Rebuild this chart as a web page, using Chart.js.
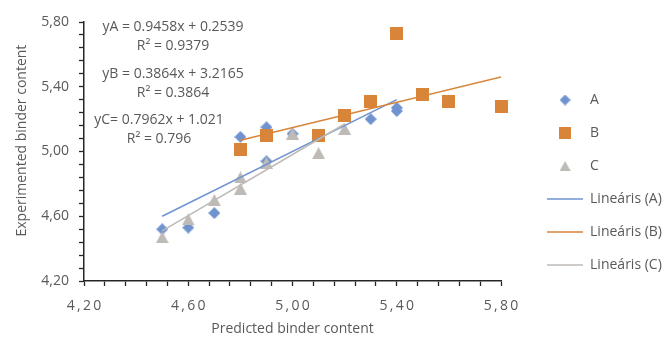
<!DOCTYPE html>
<html><head><meta charset="utf-8">
<script src="https://cdn.jsdelivr.net/npm/chart.js@4/dist/chart.umd.min.js"></script>
<style>html,body{margin:0;padding:0;background:#fff}#wrap{width:669px;height:337px}</style>
</head><body><div id="wrap"><canvas id="c" width="669" height="337"></canvas></div>
<script>
// ---- data ----
const seriesNames = ['A', 'B', 'C'];
const trendNames = ['Lineáris (A)', 'Lineáris (B)', 'Lineáris (C)'];

const xA = [4.50, 4.60, 4.70, 4.80, 4.90, 4.90, 5.00, 5.30, 5.40, 5.40];
const yA = [4.52, 4.53, 4.62, 5.09, 5.15, 4.94, 5.11, 5.20, 5.27, 5.25];

const xB = [4.80, 4.90, 5.10, 5.20, 5.30, 5.40, 5.50, 5.60, 5.80];
const yB = [5.01, 5.10, 5.10, 5.22, 5.31, 5.73, 5.35, 5.31, 5.28];

const xC = [4.50, 4.60, 4.70, 4.80, 4.80, 4.90, 5.00, 5.10, 5.20];
const yC = [4.47, 4.58, 4.70, 4.84, 4.77, 4.93, 5.11, 4.99, 5.14];

// trendline end points as drawn in the picture
const trendAx = [4.50, 5.40], trendAy = [4.60, 5.32];
const trendBx = [4.80, 5.80], trendBy = [5.07, 5.46];
const trendCx = [4.50, 5.20], trendCy = [4.51, 5.17];

const equationLabels = ['yA = 0.9458x + 0.2539', 'R\u00B2 = 0.9379',
                        'yB = 0.3864x + 3.2165', 'R\u00B2 = 0.3864',
                        'yC= 0.7962x + 1.021', 'R\u00B2 = 0.796'];

const axisMin = 4.20, axisMax = 5.80, minorStep = 0.08;
const xTitle = 'Predicted binder content';
const yTitle = 'Experimented binder content';

// ---- styling ----
const FONT = '"Open Sans", "Liberation Sans", sans-serif';
const TXT = '#595959';
const BLUE = '#7093CF', ORANGE = '#D8853A', GRAY = '#BEBAB6';

function icon(kind, color, w, h) {
  const c = document.createElement('canvas');
  c.width = w; c.height = h;
  const g = c.getContext('2d');
  g.fillStyle = color; g.strokeStyle = color;
  g.beginPath();
  if (kind === 'triangle') { g.moveTo(w / 2, 0); g.lineTo(w, h); g.lineTo(0, h); g.closePath(); g.fill(); }
  else if (kind === 'diamond') { g.moveTo(w / 2, 0); g.lineTo(w, h / 2); g.lineTo(w / 2, h); g.lineTo(0, h / 2); g.closePath(); g.fill(); }
  else if (kind === 'square') { g.fillRect(0, 0, w, h); }
  else { g.lineWidth = 1.5; g.moveTo(0, h / 2); g.lineTo(w, h / 2); g.stroke(); }
  return c;
}
const ptA = icon('diamond', BLUE, 12, 12);
const ptB = icon('square', ORANGE, 13, 13);
const ptC = icon('triangle', GRAY, 13, 12);
const legendIcons = [icon('diamond', BLUE, 11, 11), icon('square', ORANGE, 12, 12), icon('triangle', GRAY, 11, 10),
                     icon('line', BLUE, 36, 4), icon('line', ORANGE, 36, 4), icon('line', GRAY, 36, 4)];

const pts = (xs, ys) => xs.map((x, i) => ({ x: x, y: ys[i] }));

const isMajor = v => Math.round(v * 100) % 40 === 20;
const fmt = v => v.toFixed(2).replace('.', ',');

const equationPlugin = {
  id: 'equations',
  afterDatasetsDraw(chart) {
    const ctx = chart.ctx;
    ctx.save();
    ctx.font = '14px ' + FONT;
    ctx.fillStyle = TXT;
    ctx.textAlign = 'center';
    ctx.textBaseline = 'alphabetic';
    const pos = [[173, 31], [173, 50], [173, 78], [173, 97], [159, 124], [159, 143]];
    equationLabels.forEach((t, i) => ctx.fillText(t, pos[i][0], pos[i][1]));
    ctx.restore();
  }
};

const axisCommon = {
  type: 'linear', min: axisMin, max: axisMax,
  grid: { drawOnChartArea: false, drawTicks: true, tickLength: 5, tickColor: '#262626', tickWidth: 1.3 },
  border: { display: true, color: '#262626', width: 1.5 }
};

new Chart(document.getElementById('c'), {
  type: 'scatter',
  data: {
    datasets: [
      { label: seriesNames[0], data: pts(xA, yA), pointStyle: ptA, pointRadius: 6, backgroundColor: BLUE, borderColor: BLUE, order: 6, clip: false },
      { label: seriesNames[1], data: pts(xB, yB), pointStyle: ptB, pointRadius: 6, backgroundColor: ORANGE, borderColor: ORANGE, order: 5, clip: false },
      { label: seriesNames[2], data: pts(xC, yC), pointStyle: ptC, pointRadius: 6, backgroundColor: GRAY, borderColor: GRAY, order: 4, clip: false },
      { label: trendNames[0], data: pts(trendAx, trendAy), showLine: true, pointRadius: 0, borderColor: BLUE, borderWidth: 1.5, order: 3 },
      { label: trendNames[1], data: pts(trendBx, trendBy), showLine: true, pointRadius: 0, borderColor: ORANGE, borderWidth: 1.5, order: 2 },
      { label: trendNames[2], data: pts(trendCx, trendCy), showLine: true, pointRadius: 0, borderColor: GRAY, borderWidth: 1.5, order: 1 }
    ]
  },
  options: {
    responsive: false,
    animation: false,
    devicePixelRatio: 1,
    layout: { padding: { top: 22, right: -3, bottom: 0, left: 0 } },
    plugins: {
      tooltip: { enabled: false },
      legend: {
        position: 'right',
        align: 'start',
        maxWidth: 160,
        title: { display: true, text: ' ', font: { size: 10 }, padding: { top: 40, bottom: 0 } },
        labels: {
          usePointStyle: true, pointStyleWidth: 36, boxHeight: 14, padding: 19,
          font: { family: FONT, size: 14 }, color: TXT,
          generateLabels: chart => chart.data.datasets.map((ds, i) => ({
            text: ds.label, pointStyle: legendIcons[i], fillStyle: ds.borderColor,
            strokeStyle: ds.borderColor, lineWidth: 0, hidden: false, datasetIndex: i, fontColor: TXT
          }))
        }
      }
    },
    scales: {
      x: Object.assign({}, axisCommon, {
        position: 'bottom',
        afterFit: s => { s.height = 56; },
        ticks: { stepSize: minorStep, autoSkip: false, maxRotation: 0, padding: 12, color: TXT,
                 font: { family: FONT, size: 14 },
                 callback: v => isMajor(v) ? fmt(v).split('').join('\u2009') : '' },
        title: { display: true, text: xTitle, color: TXT, font: { family: FONT, size: 14 }, padding: { top: 0, bottom: 0 } }
      }),
      y: Object.assign({}, axisCommon, {
        position: 'left',
        afterFit: s => { s.width = 84; },
        ticks: { stepSize: minorStep, autoSkip: false, padding: 10, color: TXT,
                 font: { family: FONT, size: 14 },
                 callback: v => isMajor(v) ? fmt(v) : '' },
        title: { display: true, text: '      ' + yTitle, color: TXT, font: { family: FONT, size: 14 }, padding: { top: 14, bottom: 0 } }
      }),
      yR: {
        type: 'linear', position: 'right', display: true,
        afterFit: s => { s.width = 27; },
        grid: { display: false, drawTicks: false },
        border: { display: false },
        ticks: { display: false }
      }
    }
  },
  plugins: [equationPlugin]
});
</script>
</body></html>
